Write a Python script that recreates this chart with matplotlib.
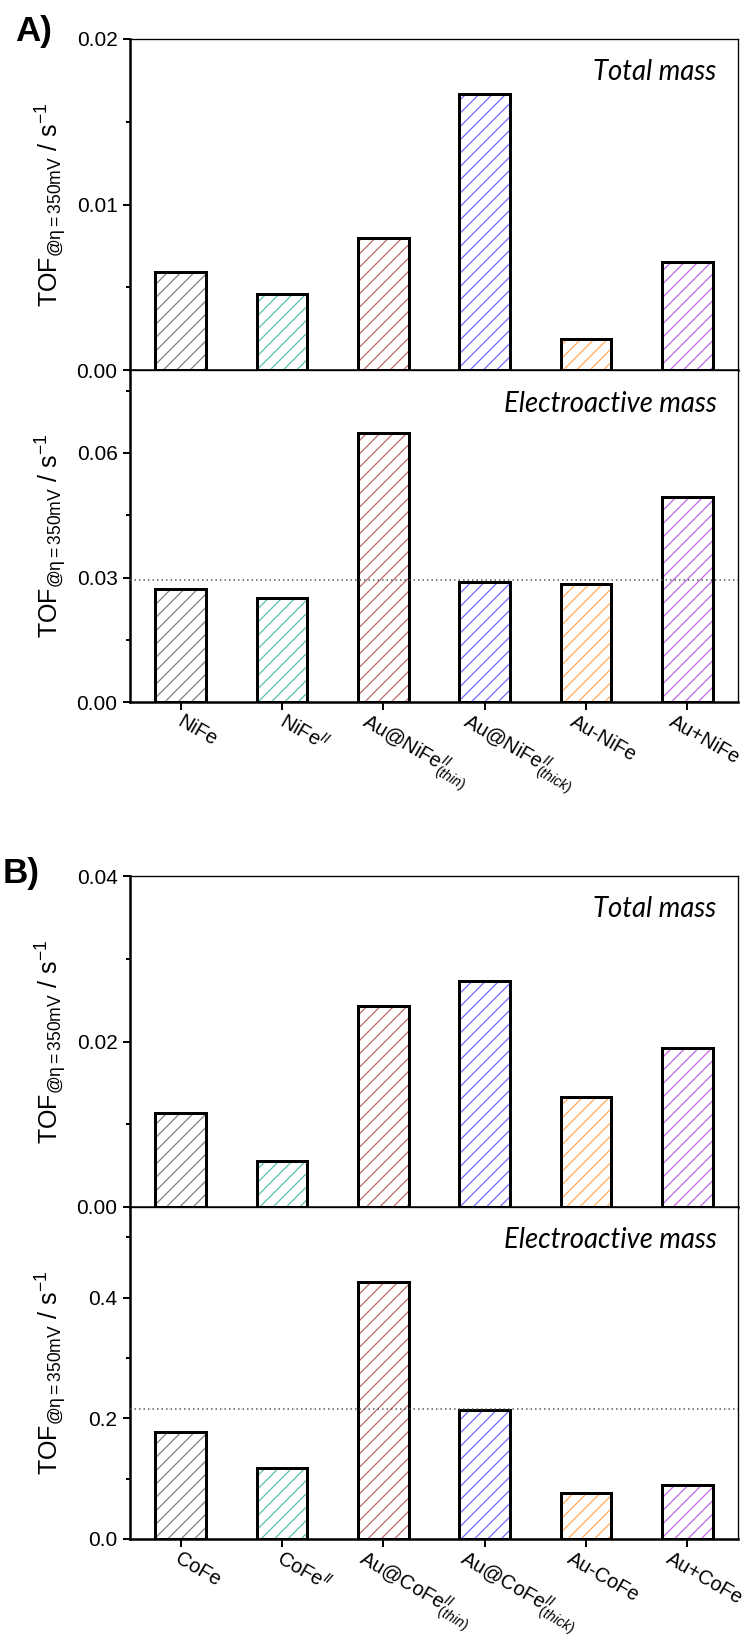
import numpy as np
import matplotlib
matplotlib.use('Agg')
import matplotlib.pyplot as plt
from matplotlib.ticker import MultipleLocator, FormatStrFormatter
from matplotlib.transforms import ScaledTranslation
from matplotlib.textpath import TextToPath
from matplotlib.font_manager import FontProperties

plt.rcParams['font.family'] = ['Liberation Sans', 'DejaVu Sans']
plt.rcParams['mathtext.fontset'] = 'custom'
plt.rcParams['mathtext.rm'] = 'Liberation Sans'
plt.rcParams['mathtext.it'] = 'Liberation Sans:italic'
plt.rcParams['mathtext.bf'] = 'Liberation Sans:bold'
plt.rcParams['hatch.linewidth'] = 0.75

# sample names
labels_nife = ['NiFe', r'NiFe$^{\mathit{II}}$',
               r'Au@NiFe$^{\mathit{II}}_{\mathit{(thin)}}$',
               r'Au@NiFe$^{\mathit{II}}_{\mathit{(thick)}}$',
               'Au-NiFe', 'Au+NiFe']
labels_cofe = ['CoFe', r'CoFe$^{\mathit{II}}$',
               r'Au@CoFe$^{\mathit{II}}_{\mathit{(thin)}}$',
               r'Au@CoFe$^{\mathit{II}}_{\mathit{(thick)}}$',
               'Au-CoFe', 'Au+CoFe']
colors = ['#808080', '#5cbfb2', '#bf6b6b', '#6b6bff', '#ffad5c', '#c466e0']

# TOF at eta = 350 mV, s^-1
nife_total = [0.0059, 0.0046, 0.0080, 0.0167, 0.0019, 0.0065]
nife_electro = [0.0272, 0.0251, 0.0647, 0.0289, 0.0285, 0.0494]
nife_ref = 0.0293
cofe_total = [0.0114, 0.0056, 0.0243, 0.0273, 0.0133, 0.0192]
cofe_electro = [0.178, 0.117, 0.425, 0.214, 0.076, 0.090]
cofe_ref = 0.2155

ylabel = r'TOF$_{\mathregular{@η=350mV}}$ / s$^{\mathregular{-1}}$'

W, H = 748, 1635
DPI = 120
ROT = 30
LABEL_SIZE = 12


def px_box(top, bottom, left=130, right=738):
    return [left / W, (H - bottom) / H, (right - left) / W, (bottom - top) / H]


def slanted_labels(ax, x, xlabels):
    # the plain part of each name is centred a bit right of its tick and
    # starts just under the axis; sub/superscripts hang off the end
    prop = FontProperties(family='Liberation Sans', size=LABEL_SIZE)
    t2p = TextToPath()
    c, s = np.cos(np.radians(ROT)), np.sin(np.radians(ROT))
    cap = 0.716 * LABEL_SIZE
    for xi, lab in zip(x, xlabels):
        main = lab.split('$')[0]
        w, h, d = t2p.get_text_width_height_descent(main, prop, ismath=False)
        dx = 18 * 72 / DPI - (cap * s + w * c) / 2
        dy = -11 * 72 / DPI - cap * c
        trans = ax.get_xaxis_transform() + ScaledTranslation(
            dx / 72, dy / 72, ax.figure.dpi_scale_trans)
        ax.text(xi, 0, lab, transform=trans, rotation=-ROT,
                rotation_mode='anchor', ha='left', va='baseline',
                fontsize=LABEL_SIZE)


def draw_panel(ax, values, ymax, major, minor, fmt, tag, xlabels=None, ref=None):
    x = np.arange(1, len(values) + 1)
    # coloured hatch first, black outline on top
    ax.bar(x, values, 0.5, color='none', edgecolor=colors, hatch='///',
           linewidth=0, zorder=2)
    ax.bar(x, values, 0.5, color='none', edgecolor='black', linewidth=1.8,
           zorder=3)
    if ref is not None:
        ax.axhline(ref, color='#555555', ls=(0, (1, 2)), lw=0.9, zorder=4)
    ax.set_xlim(0.5, len(values) + 0.5)
    ax.set_ylim(0, ymax)
    ax.set_xticks(x)
    ax.yaxis.set_major_locator(MultipleLocator(major))
    ax.yaxis.set_minor_locator(MultipleLocator(minor))
    ax.yaxis.set_major_formatter(FormatStrFormatter(fmt))
    ax.tick_params(axis='both', which='major', direction='out', length=4.5,
                   width=1.2, labelsize=12.5, pad=3)
    ax.tick_params(axis='y', which='minor', direction='out', length=2.5,
                   width=1.2)
    ax.tick_params(axis='x', labelbottom=False)
    for side in ['left', 'bottom']:
        ax.spines[side].set_linewidth(1.5)
    for side in ['top', 'right']:
        ax.spines[side].set_linewidth(0.8)
    if xlabels is not None:
        slanted_labels(ax, x, xlabels)
    ax.set_ylabel(ylabel, fontsize=15)
    ax.yaxis.set_label_coords(-0.1, 0.5)
    ax.text(0.965, 0.875, tag, transform=ax.transAxes, ha='right',
            va='baseline', fontsize=16.5, style='italic', family='Lato')


fig = plt.figure(figsize=(W / DPI, H / DPI), dpi=DPI)

ax1 = fig.add_axes(px_box(39, 370))
draw_panel(ax1, nife_total, 0.02, 0.01, 0.005, '%.2f', 'Total mass')
ax2 = fig.add_axes(px_box(370, 702))
draw_panel(ax2, nife_electro, 0.08, 0.03, 0.015, '%.2f', 'Electroactive mass',
           labels_nife, nife_ref)

ax3 = fig.add_axes(px_box(876, 1207))
draw_panel(ax3, cofe_total, 0.04, 0.02, 0.01, '%.2f', 'Total mass')
ax4 = fig.add_axes(px_box(1207, 1539))
draw_panel(ax4, cofe_electro, 0.55, 0.2, 0.1, '%.1f', 'Electroactive mass',
           labels_cofe, cofe_ref)

fig.text(15 / W, 1 - 31 / H, 'A)', fontsize=21, fontweight='bold',
         ha='left', va='center')
fig.text(3 / W, 1 - 874 / H, 'B)', fontsize=21, fontweight='bold',
         ha='left', va='center')

fig.savefig('out.png', dpi=DPI)
